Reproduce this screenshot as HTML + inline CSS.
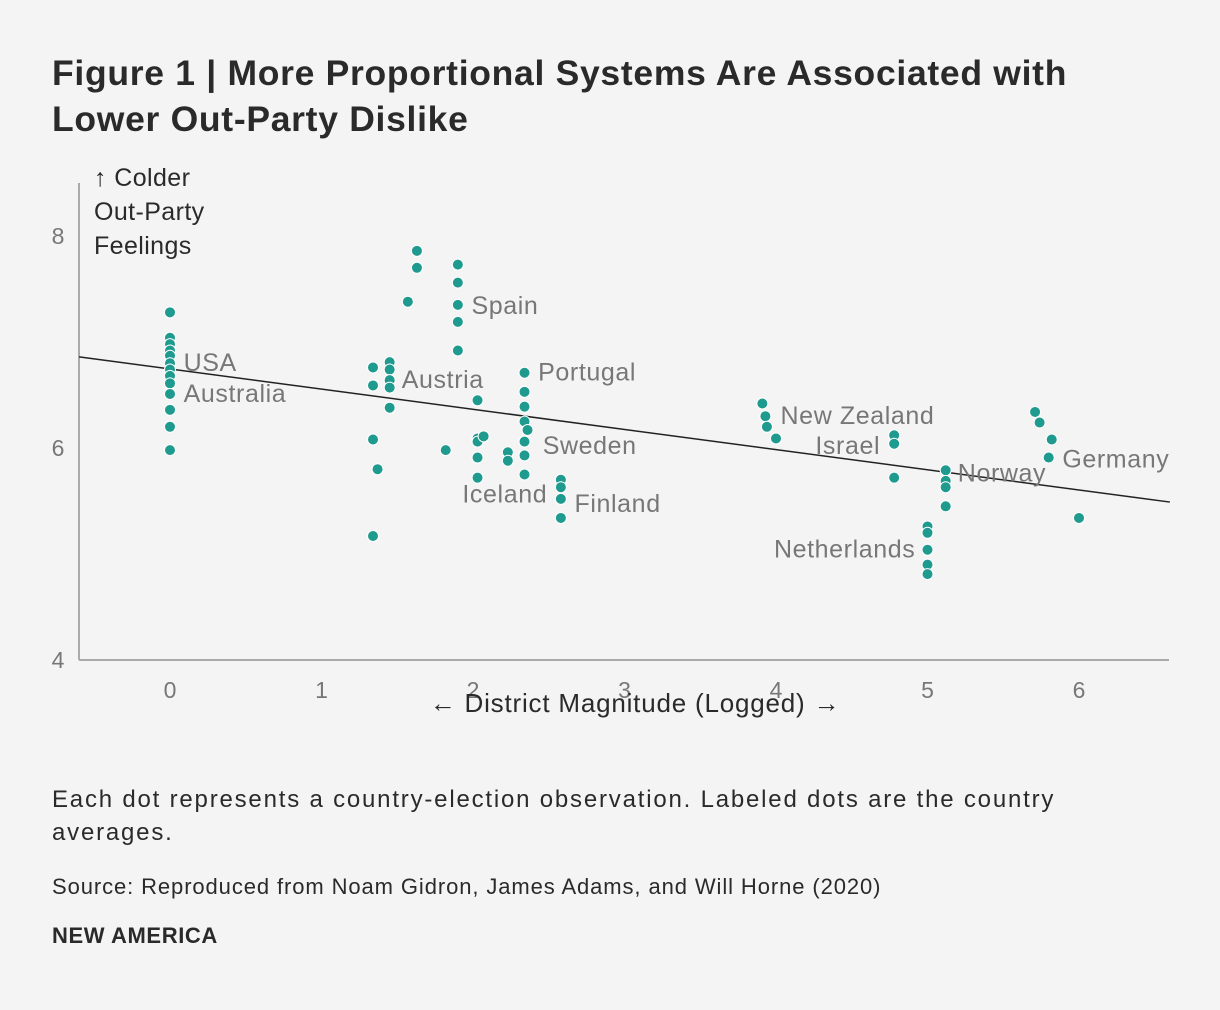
<!DOCTYPE html>
<html><head><meta charset="utf-8">
<style>
body{margin:0;background:#f4f4f4;font-family:"Liberation Sans",sans-serif;}
#wrap{position:relative;width:1220px;height:1010px;background:#f4f4f4;}
.t{position:absolute;}
</style></head>
<body>
<div id="wrap">
<div class="t" style="left:52px;top:50px;font-size:35.5px;letter-spacing:0.7px;font-weight:bold;color:#2a2a2a;line-height:46px;white-space:nowrap;">Figure 1 | More Proportional Systems Are Associated with<br>Lower Out-Party Dislike</div>
<svg id="chart" width="1220" height="740" style="position:absolute;left:0;top:0" font-family="Liberation Sans, sans-serif"></svg>
<div class="t" style="left:52px;top:783px;font-size:24px;letter-spacing:1.8px;color:#2a2a2a;line-height:33px;width:1040px;">Each dot represents a country-election observation. Labeled dots are the country averages.</div>
<div class="t" style="left:52px;top:874px;font-size:22px;letter-spacing:0.9px;color:#2a2a2a;white-space:nowrap;">Source: Reproduced from Noam Gidron, James Adams, and Will Horne (2020)</div>
<div class="t" style="left:52px;top:923px;font-size:22px;letter-spacing:0.6px;font-weight:bold;color:#2a2a2a;">NEW AMERICA</div>
</div>
<script>
const xs=[0,0,0,0,0,0,0,0,0,0,0,0,0, 1.34,1.34,1.34,1.37,1.34, 1.45,1.45,1.45,1.45,1.45, 1.57,1.63,1.63, 1.90,1.90,1.90,1.90,1.90, 1.82, 2.03,2.03,2.03,2.03,2.03,2.07, 2.23,2.23, 2.34,2.34,2.34,2.34,2.36,2.34,2.34,2.34, 2.58,2.58,2.58,2.58, 3.91,3.93,3.94,4.00, 4.78,4.78,4.78, 5.12,5.12,5.12,5.12, 5.00,5.00,5.00,5.00,5.00, 5.71,5.74,5.82,5.80,6.00];
const ys=[7.28,7.04,6.98,6.92,6.87,6.80,6.74,6.68,6.61,6.51,6.36,6.20,5.98, 6.76,6.59,6.08,5.80,5.17, 6.81,6.74,6.64,6.57,6.38, 7.38,7.86,7.70, 7.73,7.56,7.35,7.19,6.92, 5.98, 6.45,6.09,6.06,5.91,5.72,6.11, 5.96,5.88, 6.71,6.53,6.39,6.25,6.17,6.06,5.93,5.75, 5.70,5.63,5.52,5.34, 6.42,6.30,6.20,6.09, 6.12,6.04,5.72, 5.79,5.69,5.63,5.45, 5.26,5.20,5.04,4.90,4.81, 6.34,6.24,6.08,5.91,5.34];
const countries=["USA","Australia","Austria","Spain","Portugal","Sweden","Iceland","Finland","New Zealand","Israel","Norway","Germany","Netherlands"];
const labelX=[0.09,0.09,1.53,1.99,2.43,2.46,1.93,2.67,4.03,4.26,5.20,5.89,4.92];
const labelY=[6.81,6.52,6.65,7.35,6.72,6.03,5.57,5.48,6.31,6.03,5.77,5.90,5.05];
const anchors=["start","start","start","start","start","start","start","start","start","start","start","start","end"];
const xTicks=[0,1,2,3,4,5,6];
const yTicks=[4,6,8];
const fitX=[-0.6,6.6], fitY=[6.86,5.49];

const X=v=>170+151.5*v, Y=v=>448-106*(v-6);
const svg=document.getElementById('chart');const NS='http://www.w3.org/2000/svg';
function mk(t,a,txt){const e=document.createElementNS(NS,t);for(const k in a)e.setAttribute(k,a[k]);if(txt!==undefined)e.textContent=txt;svg.appendChild(e);return e;}
let e;
e=mk('line',{x1:79,y1:183,x2:79,y2:660,stroke:'#aaa','stroke-width':2});


e=mk('line',{x1:79,y1:660,x2:1169,y2:660,stroke:'#aaa','stroke-width':2});


yTicks.forEach(v=>{e=mk('text',{x:58,y:Y(v)+8,'font-size':23,fill:'#777','text-anchor':'middle'},String(v));

});
xTicks.forEach(v=>{e=mk('text',{x:X(v),y:698,'font-size':23,fill:'#777','text-anchor':'middle'},String(v));

});
e=mk('line',{x1:X(fitX[0]),y1:Y(fitY[0]),x2:X(fitX[1]),y2:Y(fitY[1]),stroke:'#222','stroke-width':1.5});


xs.forEach((x,i)=>{e=mk('circle',{cx:X(x),cy:Y(ys[i]),r:5.5,fill:'#1f9a8f',stroke:'#fff','stroke-width':1});

});
countries.forEach((c,i)=>{e=mk('text',{x:X(labelX[i]),y:Y(labelY[i])+9,'font-size':25,'letter-spacing':0.6,fill:'#777','text-anchor':anchors[i]},c);

});
['↑ Colder','Out-Party','Feelings'].forEach((s,i)=>{e=mk('text',{x:94,y:186+i*34,'font-size':25,'letter-spacing':0.4,fill:'#2a2a2a'},s);

});
e=mk('text',{x:635,y:712,'font-size':26,'letter-spacing':0.8,fill:'#2a2a2a','text-anchor':'middle'},'← District Magnitude (Logged) →');


</script>
</body></html>
